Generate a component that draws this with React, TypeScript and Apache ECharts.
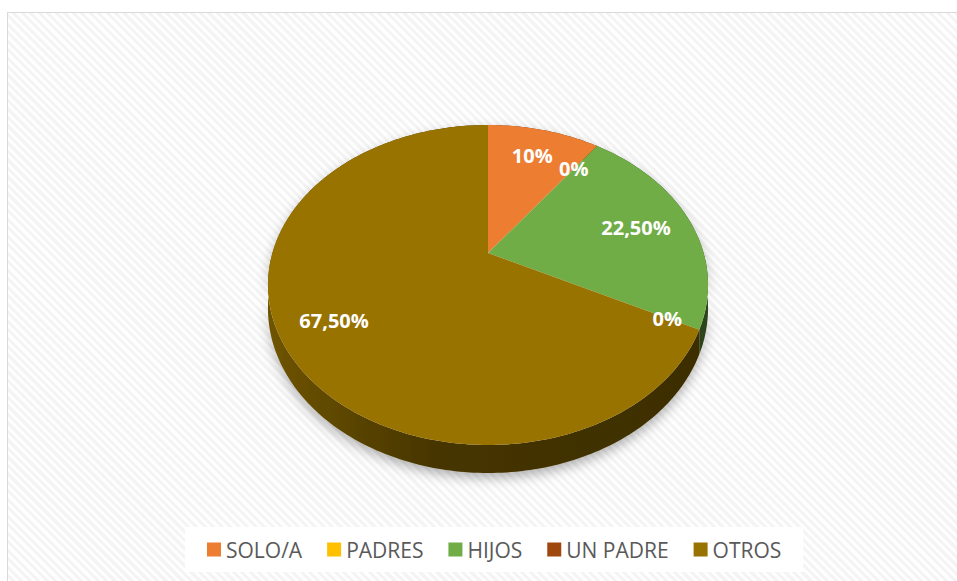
import React, { useEffect, useRef } from "react";
import * as echarts from "echarts";

const CATEGORIES = ["SOLO/A", "PADRES", "HIJOS", "UN PADRE", "OTROS"];
const VALUES = [10, 0, 22.5, 0, 67.5];
const LABELS = ["10%", "0%", "22,50%", "0%", "67,50%"];
const COLORS = ["#ED7D31", "#FFC000", "#70AD47", "#9E480E", "#997300"];

// perspective geometry of the tilted pie (style constants)
const CX = 488;
const CY = 253;
const RX = 215.6;
const RY = 153.6;
const PERSP = 0.2;
const DEPTH = 22.4;
const LABEL_R = [0.76, 0.76, 0.73, 0.86, 0.77];

const TOTAL = VALUES.reduce((s, v) => s + v, 0);
const startAngle = (i: number) => {
  let s = 0;
  for (let k = 0; k < i; k++) s += VALUES[k];
  return (360 * s) / TOTAL;
};

function proj(theta: number, r: number, down = false): number[] {
  const t = (theta * Math.PI) / 180;
  const u = r * Math.sin(t);
  const v = r * Math.cos(t);
  const den = 1 + PERSP * v;
  return [CX + (RX * u) / den, CY - (RY * v) / den + (down ? DEPTH / den : 0)];
}

function arcPts(a0: number, a1: number, down = false): number[][] {
  const pts: number[][] = [];
  const n = Math.max(2, Math.ceil((a1 - a0) / 1));
  for (let k = 0; k <= n; k++) pts.push(proj(a0 + ((a1 - a0) * k) / n, 1, down));
  return pts;
}

function shade(hex: string, f: number): string {
  const n = parseInt(hex.slice(1), 16);
  const r = Math.round(((n >> 16) & 255) * f);
  const g = Math.round(((n >> 8) & 255) * f);
  const b = Math.round((n & 255) * f);
  return `rgb(${r},${g},${b})`;
}

export default function App() {
  const ref = useRef<HTMLDivElement>(null);

  useEffect(() => {
    if (!ref.current) return;
    const chart = echarts.init(ref.current, null, { renderer: "svg" });

    const sideSeries: any = {
      type: "custom",
      name: "sides",
      coordinateSystem: "none",
      silent: true,
      z: 1,
      data: VALUES.map((v, i) => ({ value: v, name: CATEGORIES[i] })),
      renderItem: (params: any, api: any) => {
        const i = params.dataIndex;
        const val = api.value(0);
        if (!(val > 0)) return { type: "group", children: [] };
        const a0 = startAngle(i);
        const a1 = a0 + (360 * val) / TOTAL;
        const top = arcPts(a0, a1, false);
        const bot = arcPts(a0, a1, true).reverse();
        const base = COLORS[i];
        const fill = new echarts.graphic.LinearGradient(
          CX - RX,
          0,
          CX + RX,
          0,
          [
            { offset: 0, color: shade(base, 0.72) },
            { offset: 0.38, color: shade(base, 0.46) },
            { offset: 1, color: shade(base, 0.4) },
          ],
          true
        );
        return {
          type: "polygon",
          shape: { points: top.concat(bot) },
          style: {
            fill,
            shadowBlur: 12,
            shadowOffsetY: 5,
            shadowColor: "rgba(0,0,0,0.3)",
          },
        };
      },
    };

    const sliceSeries: any[] = CATEGORIES.map((name, i) => ({
      type: "custom",
      name,
      coordinateSystem: "none",
      silent: true,
      z: 2,
      itemStyle: { color: COLORS[i] },
      data: [{ value: VALUES[i], name }],
      renderItem: (_params: any, api: any) => {
        const val = api.value(0);
        if (!(val > 0)) return { type: "group", children: [] };
        const a0 = startAngle(i);
        const a1 = a0 + (360 * val) / TOTAL;
        const pts = [proj(0, 0)].concat(arcPts(a0, a1, false));
        return {
          type: "polygon",
          shape: { points: pts },
          style: { fill: COLORS[i] },
        };
      },
    }));

    const labelSeries: any = {
      type: "custom",
      name: "labels",
      coordinateSystem: "none",
      silent: true,
      z: 3,
      data: VALUES.map((v, i) => ({ value: v, name: CATEGORIES[i] })),
      renderItem: (params: any, api: any) => {
        const i = params.dataIndex;
        const val = api.value(0);
        const a0 = startAngle(i);
        const mid = a0 + (180 * val) / TOTAL;
        const [x, y] = proj(mid, LABEL_R[i]);
        return {
          type: "text",
          x,
          y,
          style: {
            text: LABELS[i],
            fill: "#ffffff",
            font: 'bold 20px "Open Sans"',
            align: "center",
            verticalAlign: "middle",
          },
        };
      },
    };

    chart.setOption({
      animation: false,
      legend: {
        data: CATEGORIES,
        left: 185,
        top: 527,
        orient: "horizontal",
        icon: "rect",
        itemWidth: 14,
        itemHeight: 14,
        itemGap: 25,
        padding: [12, 22, 12, 22],
        backgroundColor: "#ffffff",
        selectedMode: false,
        textStyle: {
          fontFamily: '"Open Sans"',
          fontSize: 21,
          color: "#595959",
        },
      },
      series: [sideSeries, ...sliceSeries, labelSeries],
    });

    return () => chart.dispose();
  }, []);

  return (
    <div
      style={{
        position: "fixed",
        left: 0,
        top: 0,
        width: 957,
        height: 581,
        background: "#ffffff",
        overflow: "hidden",
      }}
    >
      <div
        style={{
          position: "absolute",
          left: 7,
          top: 12,
          width: 980,
          height: 620,
          border: "1px solid #d9d9d9",
          background:
            "repeating-linear-gradient(45deg, #fefefe 0px, #fefefe 3px, #f4f4f4 3px, #f4f4f4 6px)",
        }}
      />
      <div
        ref={ref}
        style={{ position: "absolute", left: 0, top: 0, width: 957, height: 581 }}
      />
    </div>
  );
}
